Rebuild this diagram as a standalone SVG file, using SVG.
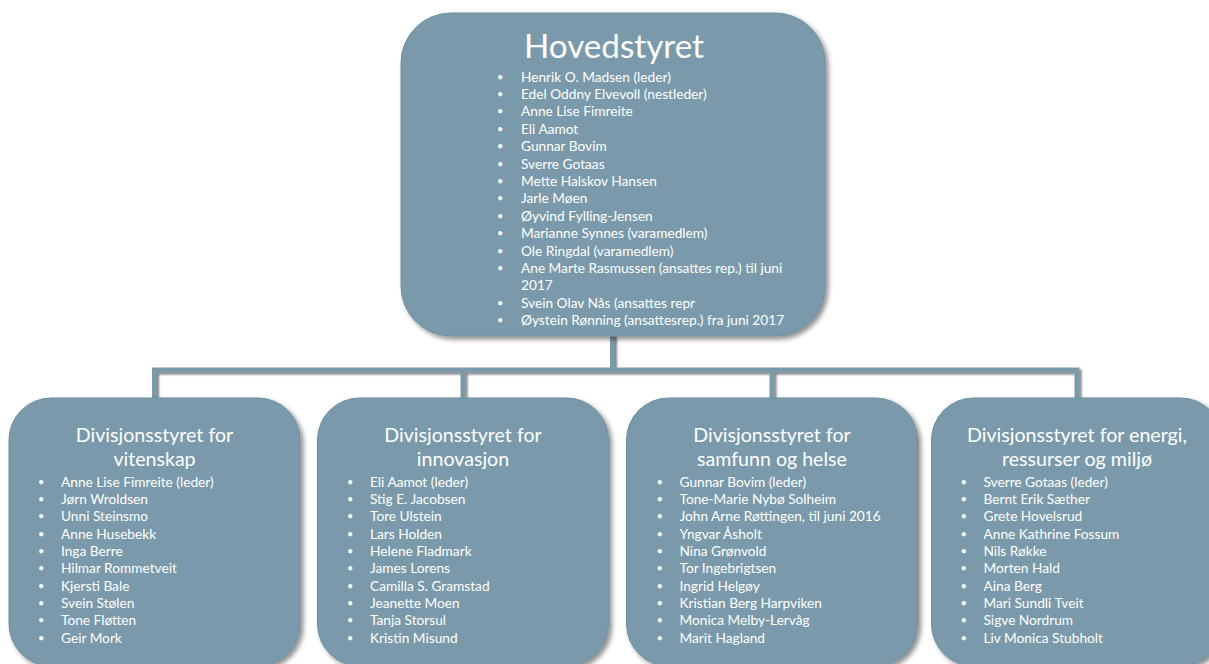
<svg xmlns="http://www.w3.org/2000/svg" width="1209" height="664" viewBox="0 0 1209 664">
<defs>
<filter id="sh" x="-10%" y="-10%" width="125%" height="125%">
<feGaussianBlur in="SourceAlpha" stdDeviation="2.5"/>
<feOffset dx="3" dy="3" result="b"/>
<feComponentTransfer><feFuncA type="linear" slope="0.45"/></feComponentTransfer>
<feMerge><feMergeNode/><feMergeNode in="SourceGraphic"/></feMerge>
</filter>
<filter id="lsh" x="-5%" y="-50%" width="110%" height="200%">
<feGaussianBlur in="SourceAlpha" stdDeviation="1.2"/>
<feOffset dx="1.5" dy="2"/>
<feComponentTransfer><feFuncA type="linear" slope="0.5"/></feComponentTransfer>
<feMerge><feMergeNode/><feMergeNode in="SourceGraphic"/></feMerge>
</filter>
</defs>
<style>
.box{fill:#7A9AAB;stroke:#6E8E9F;stroke-width:1}
.t{font-family:Lato,"Noto Sans","Liberation Sans",sans-serif;fill:#ffffff}
.h1{font-size:33.2px;text-anchor:middle}
.h2{font-size:19.6px;text-anchor:middle}
.li{font-size:13.7px}
.bu{font-size:11px}
.conn{fill:none;stroke:#7A9AAB;stroke-width:5;stroke-linecap:square}
</style>
<rect width="1209" height="664" fill="#ffffff"/>

<g id="connectors" filter="url(#lsh)">
<path class="conn" d="M612.5 336 V370 M154.5 370 H1077 M154.5 370 V397 M463 370 V397 M772 370 V397 M1077 370 V397"/>
</g>

<g id="hovedstyret">
<rect class="box" x="401" y="13" width="424" height="323" rx="50" filter="url(#sh)"/>
<text class="t h1" x="614" y="58">Hovedstyret</text>
<g class="t li">
<text class="bu" x="497" y="80.5">•</text><text x="521" y="81.5">Henrik O. Madsen (leder)</text>
<text class="bu" x="497" y="97.9">•</text><text x="521" y="98.9">Edel Oddny Elvevoll (nestleder)</text>
<text class="bu" x="497" y="115.3">•</text><text x="521" y="116.3">Anne Lise Fimreite</text>
<text class="bu" x="497" y="132.7">•</text><text x="521" y="133.7">Eli Aamot</text>
<text class="bu" x="497" y="150.1">•</text><text x="521" y="151.1">Gunnar Bovim</text>
<text class="bu" x="497" y="167.5">•</text><text x="521" y="168.5">Sverre Gotaas</text>
<text class="bu" x="497" y="184.9">•</text><text x="521" y="185.9">Mette Halskov Hansen</text>
<text class="bu" x="497" y="202.3">•</text><text x="521" y="203.3">Jarle Møen</text>
<text class="bu" x="497" y="219.7">•</text><text x="521" y="220.7">Øyvind Fylling-Jensen</text>
<text class="bu" x="497" y="237.1">•</text><text x="521" y="238.1">Marianne Synnes (varamedlem)</text>
<text class="bu" x="497" y="254.5">•</text><text x="521" y="255.5">Ole Ringdal (varamedlem)</text>
<text class="bu" x="497" y="271.9">•</text><text x="521" y="272.9">Ane Marte Rasmussen (ansattes rep.) til juni</text>
<text x="521" y="290.3">2017</text>
<text class="bu" x="497" y="306.7">•</text><text x="521" y="307.7">Svein Olav Nås (ansattes repr</text>
<text class="bu" x="497" y="324.1">•</text><text x="521" y="325.1">Øystein Rønning (ansattesrep.) fra juni 2017</text>
</g>
</g>

<g id="vitenskap">
<rect class="box" x="9" y="398" width="291" height="268" rx="42" filter="url(#sh)"/>
<text class="t h2" x="154.5" y="441.7">Divisjonsstyret for</text>
<text class="t h2" x="154.5" y="466">vitenskap</text>
<g class="t li">
<text class="bu" x="38" y="485.7">•</text><text x="61" y="486.7">Anne Lise Fimreite (leder)</text>
<text class="bu" x="38" y="503">•</text><text x="61" y="504">Jørn Wroldsen</text>
<text class="bu" x="38" y="520.4">•</text><text x="61" y="521.4">Unni Steinsmo</text>
<text class="bu" x="38" y="537.7">•</text><text x="61" y="538.7">Anne Husebekk</text>
<text class="bu" x="38" y="555">•</text><text x="61" y="556">Inga Berre</text>
<text class="bu" x="38" y="572.4">•</text><text x="61" y="573.4">Hilmar Rommetveit</text>
<text class="bu" x="38" y="589.7">•</text><text x="61" y="590.7">Kjersti Bale</text>
<text class="bu" x="38" y="607">•</text><text x="61" y="608">Svein Stølen</text>
<text class="bu" x="38" y="624.4">•</text><text x="61" y="625.4">Tone Fløtten</text>
<text class="bu" x="38" y="641.7">•</text><text x="61" y="642.7">Geir Mork</text>
</g>
</g>

<g id="innovasjon">
<rect class="box" x="317.5" y="398" width="291" height="268" rx="42" filter="url(#sh)"/>
<text class="t h2" x="463" y="441.7">Divisjonsstyret for</text>
<text class="t h2" x="463" y="466">innovasjon</text>
<g class="t li">
<text class="bu" x="347" y="485.7">•</text><text x="370" y="486.7">Eli Aamot (leder)</text>
<text class="bu" x="347" y="503">•</text><text x="370" y="504">Stig E. Jacobsen</text>
<text class="bu" x="347" y="520.4">•</text><text x="370" y="521.4">Tore Ulstein</text>
<text class="bu" x="347" y="537.7">•</text><text x="370" y="538.7">Lars Holden</text>
<text class="bu" x="347" y="555">•</text><text x="370" y="556">Helene Fladmark</text>
<text class="bu" x="347" y="572.4">•</text><text x="370" y="573.4">James Lorens</text>
<text class="bu" x="347" y="589.7">•</text><text x="370" y="590.7">Camilla S. Gramstad</text>
<text class="bu" x="347" y="607">•</text><text x="370" y="608">Jeanette Moen</text>
<text class="bu" x="347" y="624.4">•</text><text x="370" y="625.4">Tanja Storsul</text>
<text class="bu" x="347" y="641.7">•</text><text x="370" y="642.7">Kristin Misund</text>
</g>
</g>

<g id="samfunn">
<rect class="box" x="626.5" y="398" width="291" height="268" rx="42" filter="url(#sh)"/>
<text class="t h2" x="772" y="441.7">Divisjonsstyret for</text>
<text class="t h2" x="772" y="466">samfunn og helse</text>
<g class="t li">
<text class="bu" x="656.5" y="485.7">•</text><text x="679.5" y="486.7">Gunnar Bovim (leder)</text>
<text class="bu" x="656.5" y="503">•</text><text x="679.5" y="504">Tone-Marie Nybø Solheim</text>
<text class="bu" x="656.5" y="520.4">•</text><text x="679.5" y="521.4">John Arne Røttingen, til juni 2016</text>
<text class="bu" x="656.5" y="537.7">•</text><text x="679.5" y="538.7">Yngvar Åsholt</text>
<text class="bu" x="656.5" y="555">•</text><text x="679.5" y="556">Nina Grønvold</text>
<text class="bu" x="656.5" y="572.4">•</text><text x="679.5" y="573.4">Tor Ingebrigtsen</text>
<text class="bu" x="656.5" y="589.7">•</text><text x="679.5" y="590.7">Ingrid Helgøy</text>
<text class="bu" x="656.5" y="607">•</text><text x="679.5" y="608">Kristian Berg Harpviken</text>
<text class="bu" x="656.5" y="624.4">•</text><text x="679.5" y="625.4">Monica Melby-Lervåg</text>
<text class="bu" x="656.5" y="641.7">•</text><text x="679.5" y="642.7">Marit Hagland</text>
</g>
</g>

<g id="energi">
<rect class="box" x="931.5" y="398" width="291" height="268" rx="42" filter="url(#sh)"/>
<text class="t h2" x="1077" y="441.7">Divisjonsstyret for energi,</text>
<text class="t h2" x="1077" y="466">ressurser og miljø</text>
<g class="t li">
<text class="bu" x="960.5" y="485.7">•</text><text x="983.5" y="486.7">Sverre Gotaas (leder)</text>
<text class="bu" x="960.5" y="503">•</text><text x="983.5" y="504">Bernt Erik Sæther</text>
<text class="bu" x="960.5" y="520.4">•</text><text x="983.5" y="521.4">Grete Hovelsrud</text>
<text class="bu" x="960.5" y="537.7">•</text><text x="983.5" y="538.7">Anne Kathrine Fossum</text>
<text class="bu" x="960.5" y="555">•</text><text x="983.5" y="556">Nils Røkke</text>
<text class="bu" x="960.5" y="572.4">•</text><text x="983.5" y="573.4">Morten Hald</text>
<text class="bu" x="960.5" y="589.7">•</text><text x="983.5" y="590.7">Aina Berg</text>
<text class="bu" x="960.5" y="607">•</text><text x="983.5" y="608">Mari Sundli Tveit</text>
<text class="bu" x="960.5" y="624.4">•</text><text x="983.5" y="625.4">Sigve Nordrum</text>
<text class="bu" x="960.5" y="641.7">•</text><text x="983.5" y="642.7">Liv Monica Stubholt</text>
</g>
</g>
</svg>
